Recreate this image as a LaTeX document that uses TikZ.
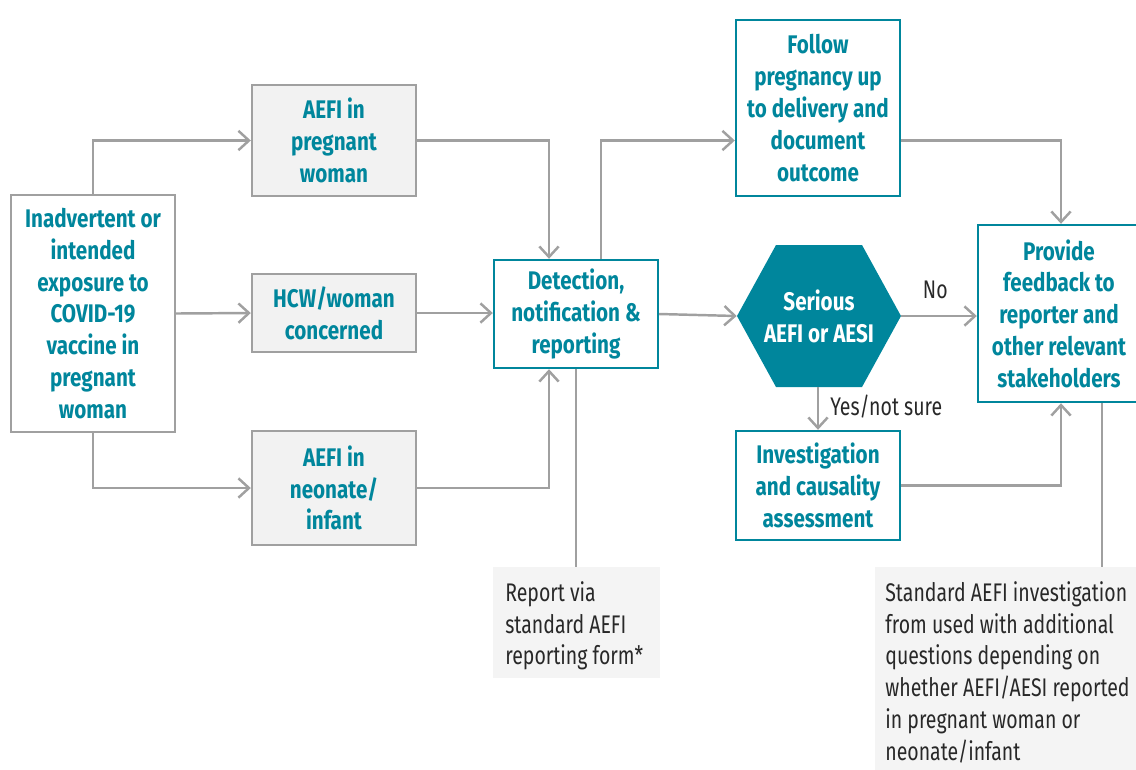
\documentclass[tikz,border=0pt]{standalone}
\usepackage{fontspec}
\setmainfont{Fira Sans}[FakeStretch=0.81]
\newfontfamily\notefont{Fira Sans}[FakeStretch=0.765]
\usetikzlibrary{shapes.geometric,arrows.meta,calc}
\definecolor{teal}{RGB}{0,134,156}
\definecolor{lgray}{RGB}{160,160,160}
\definecolor{boxfill}{RGB}{242,242,242}
\definecolor{notefill}{RGB}{244,244,244}
\definecolor{txt}{RGB}{40,40,40}
\tikzset{
  base/.style={rectangle,inner sep=2pt,align=center,font=\fontsize{14.5}{18.1}\selectfont\bfseries,text=teal,line width=1.4pt},
  graybox/.style={base,draw=lgray,fill=boxfill},
  srcbox/.style={base,draw=lgray,fill=white},
  tealbox/.style={base,draw=teal,fill=white},
  hexnode/.style={rectangle,text=white,inner sep=0pt,minimum width=3.28cm,minimum height=2.84cm,align=center,font=\fontsize{14.5}{18.1}\selectfont\bfseries},
  hexfill/.style={fill=teal},
  note/.style={rectangle,fill=notefill,align=left,anchor=north west,font=\notefont\fontsize{14.5}{18.1}\selectfont,text=txt,inner sep=0pt},
  lbl/.style={font=\notefont\fontsize{14.5}{18.1}\selectfont,text=txt},
  conn/.style={draw=lgray,line width=1.4pt,-{Straight Barb[length=6pt,width=11pt]}},
  thin/.style={draw=lgray,line width=0.6pt}
}
\begin{document}
\begin{tikzpicture}[x=0.02cm,y=-0.02cm]
\useasboundingbox (0,0) rectangle (1136,769);
\node[srcbox,minimum width=3.28cm,minimum height=4.74cm] (src) at (93,313.5) {Inadvertent or\\intended\\exposure to\\COVID-19\\vaccine in\\pregnant\\woman};
\node[graybox,minimum width=3.28cm,minimum height=2.22cm] (preg) at (334,140.5) {AEFI in\\pregnant\\woman};
\node[graybox,minimum width=3.28cm,minimum height=1.56cm] (hcw) at (334,313) {HCW/woman\\concerned};
\node[graybox,minimum width=3.28cm,minimum height=2.28cm] (neo) at (334,488) {AEFI in\\neonate/\\infant};
\node[tealbox,minimum width=3.28cm,minimum height=2.16cm] (det) at (576,314) {Detection,\\notification \&\\reporting};
\node[tealbox,minimum width=3.28cm,minimum height=3.52cm] (fol) at (818,108) {Follow\\pregnancy up\\to delivery and\\document\\outcome};
\fill[hexfill] (737,316) -- (776,245) -- (862,245) -- (901,316) -- (862,387) -- (776,387) -- cycle;
\node[hexnode] (hex) at (819,316) {Serious\\AEFI or AESI};
\node[tealbox,minimum width=3.28cm,minimum height=2.18cm] (inv) at (818,485.5) {Investigation\\and causality\\assessment};
\node[tealbox,minimum width=3.24cm,minimum height=3.54cm] (fb) at (1059,313.5) {Provide\\feedback to\\reporter and\\other relevant\\stakeholders};
\node[note,minimum width=3.34cm,minimum height=2.22cm] (n1) at (493,567) {};
\node[note,anchor=north west,inner sep=0pt] (n1t) at (505,581) {Report via\\standard AEFI\\reporting form*};
\node[note,minimum width=5.3cm,minimum height=4.1cm] (n2) at (875,567) {};
\node[note,anchor=north west,inner sep=0pt] (n2t) at (885,581) {Standard AEFI investigation\\from used with additional\\questions depending on\\whether AEFI/AESI reported\\in pregnant woman or\\neonate/infant};
% connectors
\draw[conn] (src.north) |- (preg.west);
\draw[conn] (src.east) -- (hcw.west);
\draw[conn] (src.south) |- (neo.west);
\coordinate (dtin) at ($(det.north)+(-27,0)$);
\coordinate (dbin) at ($(det.south)+(-27,0)$);
\coordinate (dtout) at ($(det.north)+(25,0)$);
\draw[conn] (preg.east) -| (dtin);
\draw[conn] (hcw.east) -- (hcw.east -| det.west);
\draw[conn] (neo.east) -| (dbin);
\draw[conn] (dtout) |- (fol.west |- preg.east);
\draw[conn] (det.east) -- (hex.west);
\draw[conn] (hex.east) -- node[lbl,above=6pt,pos=0.45]{No} (fb.west |- hex.east);
\draw[conn] (hex.south -| inv.north) -- node[lbl,right=3pt,pos=0.45]{Yes/not sure} (inv.north);
\coordinate (fbtop) at ($(fb.north)+(2,0)$);
\coordinate (fbbot) at ($(fb.south)+(2,0)$);
\draw[conn] (fol.east |- preg.east) -| (fbtop);
\draw[conn] (inv.east) -| (fbbot);
\draw[thin] (det.south) -- (det.south |- n1.north);
\draw[thin] ($(fb.south)+(43,0)$) -- ($(fb.south |- n2.north)+(43,0)$);
\end{tikzpicture}
\end{document}
